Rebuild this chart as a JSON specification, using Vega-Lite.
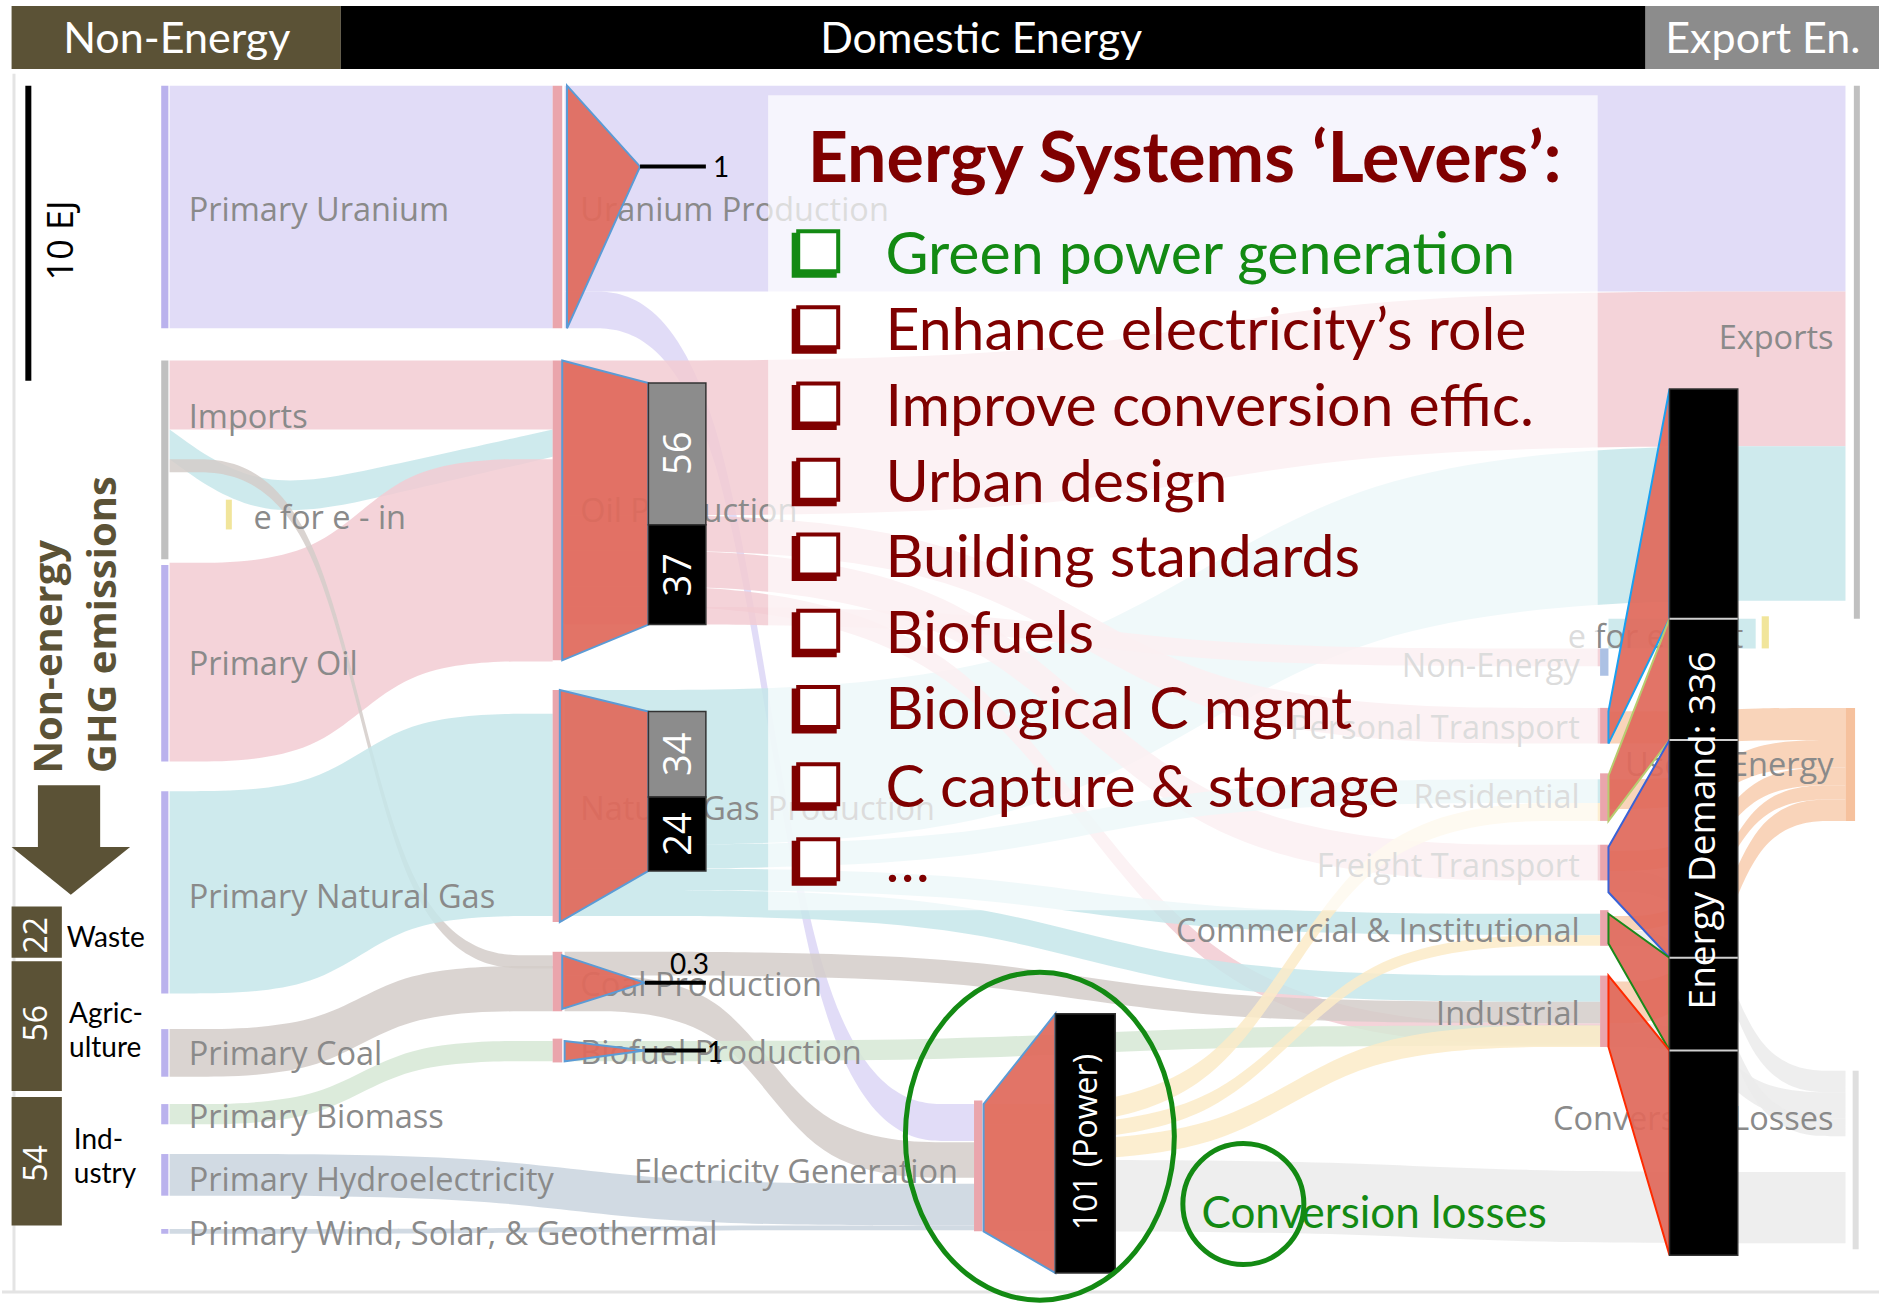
{
"$schema":"https://vega.github.io/schema/vega-lite/v6.json",
"width":1881,"height":1309,
"autosize":{"type":"fit","contains":"padding"},
"padding":0,
"background":"#ffffff",
"config":{"view":{"stroke":null},"axis":{"disable":true}},
"datasets":{
"flows":[
{"f":"u1","c":"U","x":140,"y":72,"y2":276},{"f":"u1","c":"U","x":460,"y":72,"y2":276},
{"f":"u2","c":"U","x":470,"y":72,"y2":245},{"f":"u2","c":"U","x":1540,"y":72,"y2":245},
{"f":"u3","c":"U","x":470,"y":245,"y2":276},{"f":"u3","c":"U","x":607,"y":245,"y2":276},{"f":"u3","c":"U","x":675,"y":928,"y2":959},{"f":"u3","c":"U","x":812,"y":928,"y2":959},
{"f":"o1","c":"O","x":140,"y":303,"y2":361},{"f":"o1","c":"O","x":460,"y":303,"y2":361},
{"f":"gi","c":"G","x":140,"y":361,"y2":386},{"f":"gi","c":"G","x":215,"y":415,"y2":440},{"f":"gi","c":"G","x":320,"y":392,"y2":417},{"f":"gi","c":"G","x":460,"y":361,"y2":384},
{"f":"o2","c":"O","x":140,"y":473,"y2":640},{"f":"o2","c":"O","x":268,"y":473,"y2":640},{"f":"o2","c":"O","x":332,"y":386,"y2":556},{"f":"o2","c":"O","x":460,"y":386,"y2":556},
{"f":"c0","c":"C","x":140,"y":386,"y2":397},{"f":"c0","c":"C","x":268,"y":386,"y2":397},{"f":"c0","c":"C","x":332,"y":803,"y2":814},{"f":"c0","c":"C","x":460,"y":803,"y2":814},
{"f":"g1","c":"G","x":140,"y":665,"y2":835},{"f":"g1","c":"G","x":268,"y":665,"y2":835},{"f":"g1","c":"G","x":332,"y":600,"y2":770},{"f":"g1","c":"G","x":460,"y":600,"y2":770},
{"f":"c1","c":"C","x":140,"y":865,"y2":905},{"f":"c1","c":"C","x":268,"y":865,"y2":905},{"f":"c1","c":"C","x":332,"y":812,"y2":850},{"f":"c1","c":"C","x":460,"y":812,"y2":850},
{"f":"b1","c":"B","x":140,"y":928,"y2":945},{"f":"b1","c":"B","x":268,"y":928,"y2":945},{"f":"b1","c":"B","x":332,"y":875,"y2":892},{"f":"b1","c":"B","x":460,"y":875,"y2":892},
{"f":"h1","c":"H","x":140,"y":970,"y2":1005},{"f":"h1","c":"H","x":409,"y":970,"y2":1005},{"f":"h1","c":"H","x":543,"y":995,"y2":1030},{"f":"h1","c":"H","x":812,"y":995,"y2":1030},
{"f":"w1","c":"H","x":140,"y":1033,"y2":1037},{"f":"w1","c":"H","x":409,"y":1033,"y2":1037},{"f":"w1","c":"H","x":543,"y":1030,"y2":1034},{"f":"w1","c":"H","x":812,"y":1030,"y2":1034},
{"f":"o3","c":"O","x":470,"y":303,"y2":433},{"f":"o3","c":"O","x":898,"y":303,"y2":433},{"f":"o3","c":"O","x":1112,"y":245,"y2":375},{"f":"o3","c":"O","x":1540,"y":245,"y2":375},
{"f":"g2","c":"G","x":470,"y":580,"y2":710},{"f":"g2","c":"G","x":898,"y":580,"y2":710},{"f":"g2","c":"G","x":1112,"y":375,"y2":505},{"f":"g2","c":"G","x":1540,"y":375,"y2":505},
{"f":"o4","c":"O","x":470,"y":433,"y2":463},{"f":"o4","c":"O","x":816,"y":433,"y2":463},{"f":"o4","c":"O","x":989,"y":595,"y2":625},{"f":"o4","c":"O","x":1335,"y":595,"y2":625},
{"f":"o5","c":"O","x":470,"y":463,"y2":493},{"f":"o5","c":"O","x":816,"y":463,"y2":493},{"f":"o5","c":"O","x":989,"y":710,"y2":740},{"f":"o5","c":"O","x":1335,"y":710,"y2":740},
{"f":"o6","c":"O","x":470,"y":493,"y2":510},{"f":"o6","c":"O","x":816,"y":493,"y2":510},{"f":"o6","c":"O","x":989,"y":860,"y2":877},{"f":"o6","c":"O","x":1335,"y":860,"y2":877},
{"f":"o7","c":"O","x":470,"y":510,"y2":525},{"f":"o7","c":"O","x":816,"y":510,"y2":525},{"f":"o7","c":"O","x":989,"y":545,"y2":560},{"f":"o7","c":"O","x":1335,"y":545,"y2":560},
{"f":"g3","c":"G","x":470,"y":710,"y2":730},{"f":"g3","c":"G","x":816,"y":710,"y2":730},{"f":"g3","c":"G","x":989,"y":655,"y2":675},{"f":"g3","c":"G","x":1335,"y":655,"y2":675},
{"f":"g4","c":"G","x":470,"y":730,"y2":748},{"f":"g4","c":"G","x":816,"y":730,"y2":748},{"f":"g4","c":"G","x":989,"y":768,"y2":786},{"f":"g4","c":"G","x":1335,"y":768,"y2":786},
{"f":"g5","c":"G","x":470,"y":748,"y2":770},{"f":"g5","c":"G","x":816,"y":748,"y2":770},{"f":"g5","c":"G","x":989,"y":820,"y2":842},{"f":"g5","c":"G","x":1335,"y":820,"y2":842},
{"f":"c2","c":"C","x":470,"y":800,"y2":820},{"f":"c2","c":"C","x":816,"y":800,"y2":820},{"f":"c2","c":"C","x":989,"y":842,"y2":860},{"f":"c2","c":"C","x":1335,"y":842,"y2":860},
{"f":"c3","c":"C","x":470,"y":820,"y2":850},{"f":"c3","c":"C","x":607,"y":820,"y2":850},{"f":"c3","c":"C","x":675,"y":960,"y2":990},{"f":"c3","c":"C","x":812,"y":960,"y2":990},
{"f":"b2","c":"B","x":470,"y":875,"y2":892},{"f":"b2","c":"B","x":816,"y":875,"y2":892},{"f":"b2","c":"B","x":989,"y":862,"y2":879},{"f":"b2","c":"B","x":1335,"y":862,"y2":879},
{"f":"e1","c":"E","x":820,"y":928,"y2":945},{"f":"e1","c":"E","x":1026,"y":928,"y2":945},{"f":"e1","c":"E","x":1129,"y":675,"y2":690},{"f":"e1","c":"E","x":1335,"y":675,"y2":690},
{"f":"e2","c":"E","x":820,"y":945,"y2":958},{"f":"e2","c":"E","x":1026,"y":945,"y2":958},{"f":"e2","c":"E","x":1129,"y":786,"y2":795},{"f":"e2","c":"E","x":1335,"y":786,"y2":795},
{"f":"e3","c":"E","x":820,"y":958,"y2":975},{"f":"e3","c":"E","x":1026,"y":958,"y2":975},{"f":"e3","c":"E","x":1129,"y":862,"y2":880},{"f":"e3","c":"E","x":1335,"y":862,"y2":880},
{"f":"l1","c":"L","x":820,"y":975,"y2":1035},{"f":"l1","c":"L","x":1108,"y":975,"y2":1035},{"f":"l1","c":"L","x":1252,"y":985,"y2":1045},{"f":"l1","c":"L","x":1540,"y":985,"y2":1045},
{"f":"ue1","c":"UE","x":1342,"y":598,"y2":625},{"f":"ue1","c":"UE","x":1421,"y":598,"y2":625},{"f":"ue1","c":"UE","x":1461,"y":595,"y2":622},{"f":"ue1","c":"UE","x":1540,"y":595,"y2":622},
{"f":"ue2","c":"UE","x":1342,"y":655,"y2":680},{"f":"ue2","c":"UE","x":1421,"y":655,"y2":680},{"f":"ue2","c":"UE","x":1461,"y":622,"y2":645},{"f":"ue2","c":"UE","x":1540,"y":622,"y2":645},
{"f":"ue3","c":"UE","x":1342,"y":715,"y2":732},{"f":"ue3","c":"UE","x":1421,"y":715,"y2":732},{"f":"ue3","c":"UE","x":1461,"y":645,"y2":660},{"f":"ue3","c":"UE","x":1540,"y":645,"y2":660},
{"f":"ue4","c":"UE","x":1342,"y":770,"y2":782},{"f":"ue4","c":"UE","x":1421,"y":770,"y2":782},{"f":"ue4","c":"UE","x":1461,"y":660,"y2":672},{"f":"ue4","c":"UE","x":1540,"y":660,"y2":672},
{"f":"ue5","c":"UE","x":1342,"y":825,"y2":860},{"f":"ue5","c":"UE","x":1421,"y":825,"y2":860},{"f":"ue5","c":"UE","x":1461,"y":672,"y2":690},{"f":"ue5","c":"UE","x":1540,"y":672,"y2":690},
{"f":"l2","c":"L","x":1342,"y":732,"y2":750},{"f":"l2","c":"L","x":1421,"y":732,"y2":750},{"f":"l2","c":"L","x":1461,"y":900,"y2":918},{"f":"l2","c":"L","x":1540,"y":900,"y2":918},
{"f":"l3","c":"L","x":1342,"y":860,"y2":880},{"f":"l3","c":"L","x":1421,"y":860,"y2":880},{"f":"l3","c":"L","x":1461,"y":918,"y2":940},{"f":"l3","c":"L","x":1540,"y":918,"y2":940},
{"f":"l4","c":"L","x":1342,"y":782,"y2":795},{"f":"l4","c":"L","x":1421,"y":782,"y2":795},{"f":"l4","c":"L","x":1461,"y":940,"y2":955},{"f":"l4","c":"L","x":1540,"y":940,"y2":955},
{"f":"eo","c":"G","x":1342,"y":520,"y2":545},{"f":"eo","c":"G","x":1465,"y":520,"y2":545}
],
"nodes":[
{"x":133,"x2":139,"y":72,"y2":276,"c":"src"},
{"x":133,"x2":139,"y":303,"y2":470,"c":"imp"},
{"x":187,"x2":192,"y":420,"y2":445,"c":"yel"},
{"x":133,"x2":139,"y":475,"y2":640,"c":"src"},
{"x":133,"x2":139,"y":665,"y2":835,"c":"src"},
{"x":133,"x2":139,"y":865,"y2":905,"c":"src"},
{"x":133,"x2":139,"y":928,"y2":945,"c":"src"},
{"x":133,"x2":139,"y":970,"y2":1005,"c":"src"},
{"x":133,"x2":139,"y":1033,"y2":1037,"c":"src"},
{"x":460,"x2":468,"y":72,"y2":276,"c":"prod"},
{"x":460,"x2":468,"y":303,"y2":555,"c":"prod"},
{"x":460,"x2":468,"y":580,"y2":775,"c":"prod"},
{"x":460,"x2":468,"y":800,"y2":850,"c":"prod"},
{"x":460,"x2":468,"y":873,"y2":893,"c":"prod"},
{"x":812,"x2":819,"y":925,"y2":1035,"c":"prod"},
{"x":1335,"x2":1342,"y":545,"y2":568,"c":"ne"},
{"x":1335,"x2":1342,"y":595,"y2":625,"c":"prod"},
{"x":1335,"x2":1342,"y":650,"y2":690,"c":"prod"},
{"x":1335,"x2":1342,"y":710,"y2":740,"c":"prod"},
{"x":1335,"x2":1342,"y":765,"y2":795,"c":"prod"},
{"x":1335,"x2":1342,"y":820,"y2":880,"c":"prod"},
{"x":1470,"x2":1476,"y":518,"y2":545,"c":"yel"},
{"x":1547,"x2":1552,"y":72,"y2":520,"c":"imp"},
{"x":1540,"x2":1548,"y":595,"y2":690,"c":"ue"},
{"x":1546,"x2":1551,"y":900,"y2":1050,"c":"loss"}
],
"lblL":[
{"t":"Primary Uranium","x":156,"y":177},{"t":"Imports","x":156,"y":351},{"t":"e for e - in","x":210,"y":436},
{"t":"Primary Oil","x":156,"y":559},{"t":"Primary Natural Gas","x":156,"y":755},{"t":"Primary Coal","x":156,"y":887},
{"t":"Primary Biomass","x":156,"y":940},{"t":"Primary Hydroelectricity","x":156,"y":993},{"t":"Primary Wind, Solar, & Geothermal","x":156,"y":1038},
{"t":"Uranium Production","x":483,"y":177},{"t":"Oil Production","x":483,"y":430},{"t":"Natural Gas Production","x":483,"y":681},
{"t":"Coal Production","x":483,"y":829},{"t":"Biofuel Production","x":483,"y":886},{"t":"Electricity Generation","x":528,"y":986},
{"t":"e for e - out","x":1308,"y":536}
],
"lblR":[
{"t":"Non-Energy","x":1318,"y":561},{"t":"Personal Transport","x":1318,"y":613},{"t":"Residential","x":1318,"y":671},
{"t":"Freight Transport","x":1318,"y":729},{"t":"Commercial & Institutional","x":1318,"y":783},{"t":"Industrial","x":1318,"y":853},
{"t":"Exports","x":1530,"y":285},{"t":"Useful Energy","x":1530,"y":644},{"t":"Conversion Losses","x":1530,"y":941}
],
"rects":[
{"x":8,"x2":283,"y":5,"y2":58,"c":"ol"},{"x":283,"x2":1373,"y":5,"y2":58,"c":"k"},{"x":1373,"x2":1568,"y":5,"y2":58,"c":"gr"},
{"x":30,"x2":82,"y":660,"y2":713,"c":"ol"},
{"x":8,"x2":50,"y":762,"y2":805,"c":"ol"},{"x":8,"x2":50,"y":808,"y2":917,"c":"ol"},{"x":8,"x2":50,"y":922,"y2":1030,"c":"ol"}
],
"funnels":[
{"f":"fu","s":"lb","x":472,"y":72,"y2":276},{"f":"fu","s":"lb","x":533,"y":140,"y2":140},
{"f":"fo","s":"lb","x":468,"y":303,"y2":555},{"f":"fo","s":"lb","x":540,"y":322,"y2":525},
{"f":"fg","s":"lb","x":466,"y":580,"y2":775},{"f":"fg","s":"lb","x":540,"y":598,"y2":732},
{"f":"fc","s":"lb","x":468,"y":803,"y2":848},{"f":"fc","s":"lb","x":537,"y":826,"y2":826},
{"f":"fb","s":"lb","x":470,"y":875,"y2":892},{"f":"fb","s":"lb","x":537,"y":883,"y2":883},
{"f":"fp","s":"lb","x":820,"y":928,"y2":1035},{"f":"fp","s":"lb","x":880,"y":852,"y2":1070},
{"f":"ra","s":"ra","x":1342,"y":598,"y2":625},{"f":"ra","s":"ra","x":1393,"y":327,"y2":520},
{"f":"rb","s":"rb","x":1342,"y":652,"y2":690},{"f":"rb","s":"rb","x":1393,"y":520,"y2":622},
{"f":"rc","s":"rc","x":1342,"y":712,"y2":750},{"f":"rc","s":"rc","x":1393,"y":622,"y2":805},
{"f":"rd","s":"rd","x":1342,"y":768,"y2":793},{"f":"rd","s":"rd","x":1393,"y":805,"y2":883},
{"f":"re","s":"re","x":1342,"y":820,"y2":880},{"f":"re","s":"re","x":1393,"y":883,"y2":1055}
],
"bars":[
{"x":540,"x2":588,"y":322,"y2":441,"c":"g"},{"x":540,"x2":588,"y":441,"y2":525,"c":"k"},
{"x":540,"x2":588,"y":598,"y2":670,"c":"g"},{"x":540,"x2":588,"y":670,"y2":732,"c":"k"},
{"x":880,"x2":930,"y":852,"y2":1070,"c":"k"},
{"x":1393,"x2":1450,"y":327,"y2":1055,"c":"k"}
],
"seps":[
{"x":1393,"x2":1450,"y":520,"y2":520},{"x":1393,"x2":1450,"y":622,"y2":622},
{"x":1393,"x2":1450,"y":805,"y2":805},{"x":1393,"x2":1450,"y":883,"y2":883}
],
"ticks":[
{"x":533,"x2":588,"y":140,"y2":140},{"x":537,"x2":588,"y":826,"y2":826},{"x":537,"x2":588,"y":883,"y2":883}
],
"rotW":[
{"t":"56","x":566,"y":381},{"t":"37","x":566,"y":483},{"t":"34","x":566,"y":634},{"t":"24","x":566,"y":701}
],
"rotS":[
{"t":"22","x":29,"y":786},{"t":"56","x":29,"y":860},{"t":"54","x":29,"y":978},{"t":"101 (Power)","x":906,"y":960}
],
"blk":[
{"t":"1","x":594,"y":142},{"t":"0.3","x":558,"y":812},{"t":"1","x":589,"y":886},
{"t":"Waste","x":54,"y":789},{"t":"Agric-","x":56,"y":853},{"t":"ulture","x":56,"y":882},
{"t":"Ind-","x":60,"y":959},{"t":"ustry","x":60,"y":988}
],
"levers":[
{"t":"Green power generation","g":"green","x":738,"y":215},
{"t":"Enhance electricity’s role","g":"red","x":738,"y":279},
{"t":"Improve conversion effic.","g":"red","x":738,"y":343},
{"t":"Urban design","g":"red","x":738,"y":407},
{"t":"Building standards","g":"red","x":738,"y":470},
{"t":"Biofuels","g":"red","x":738,"y":534},
{"t":"Biological C mgmt","g":"red","x":738,"y":598},
{"t":"C capture & storage","g":"red","x":738,"y":663},
{"t":"…","g":"red","x":738,"y":726}
],
"checks":[
{"g":"green","x":681,"y":212},{"g":"red","x":681,"y":276},{"g":"red","x":681,"y":340},{"g":"red","x":681,"y":404},
{"g":"red","x":681,"y":467},{"g":"red","x":681,"y":531},{"g":"red","x":681,"y":595},{"g":"red","x":681,"y":660},{"g":"red","x":681,"y":723}
]
},
"encoding":{
"x":{"field":"x","type":"quantitative","scale":{"domain":[0,1568],"nice":false,"zero":false},"axis":null},
"y":{"field":"y","type":"quantitative","scale":{"domain":[0,1091],"nice":false,"zero":false,"reverse":true},"axis":null}
},
"layer":[
{"data":{"name":"flows"},"mark":{"type":"area","interpolate":"basis","opacity":0.85},
 "encoding":{"y2":{"field":"y2"},"detail":{"field":"f"},
  "color":{"field":"c","type":"nominal","legend":null,"scale":{"domain":["U","O","G","C","B","H","E","UE","L"],"range":["#dcd6f6","#f2cbd2","#c6e6ea","#d3cdc9","#d6e8d5","#c9d3de","#fcebc8","#f8cdae","#ebebeb"]}}}},
{"data":{"name":"nodes"},"mark":{"type":"rect","opacity":0.85},
 "encoding":{"x2":{"field":"x2"},"y2":{"field":"y2"},
  "color":{"field":"c","type":"nominal","legend":null,"scale":{"domain":["src","imp","yel","prod","ne","ue","loss"],"range":["#aea4ea","#b5b5b5","#efe08a","#e6959d","#9db6df","#f5b68c","#d9d9d9"]}}}},
{"data":{"name":"lblL"},"mark":{"type":"text","align":"left","baseline":"middle","font":"Open Sans","fontSize":32.5,"color":"#8a8a8a"},
 "encoding":{"text":{"field":"t"}}},
{"data":{"name":"lblR"},"mark":{"type":"text","align":"right","baseline":"middle","font":"Open Sans","fontSize":32.5,"color":"#8a8a8a"},
 "encoding":{"text":{"field":"t"}}},
{"data":{"values":[{"x":640,"x2":1333,"y":80,"y2":765}]},"mark":{"type":"rect","color":"#ffffff","opacity":0.7},
 "encoding":{"x2":{"field":"x2"},"y2":{"field":"y2"}}},
{"data":{"values":[{"x":0,"x2":1568,"y":1086,"y2":1086},{"x":10,"x2":10,"y":62,"y2":1086}]},"mark":{"type":"rule","color":"#e4e4e4","strokeWidth":3},
 "encoding":{"x2":{"field":"x2"},"y2":{"field":"y2"}}},
{"data":{"name":"rects"},"mark":{"type":"rect"},
 "encoding":{"x2":{"field":"x2"},"y2":{"field":"y2"},
  "color":{"field":"c","type":"nominal","legend":null,"scale":{"domain":["ol","k","gr"],"range":["#5b5236","#000000","#8c8c8c"]}}}},
{"data":{"values":[{"t":"Non-Energy","x":146,"y":34},{"t":"Domestic Energy","x":818,"y":34},{"t":"Export En.","x":1471,"y":34}]},
 "mark":{"type":"text","align":"center","baseline":"middle","font":"Lato","fontSize":43,"color":"#ffffff"},
 "encoding":{"text":{"field":"t"}}},
{"data":{"values":[{"x":8,"y":712,"y2":712},{"x":57.5,"y":712,"y2":752},{"x":107,"y":712,"y2":712}]},
 "mark":{"type":"area","color":"#5b5236"},"encoding":{"y2":{"field":"y2"}}},
{"data":{"name":"funnels"},"mark":{"type":"area","fill":"#e0695b","fillOpacity":0.93,"strokeWidth":2},
 "encoding":{"y2":{"field":"y2"},"detail":{"field":"f"},
  "stroke":{"field":"s","type":"nominal","legend":null,"scale":{"domain":["lb","ra","rb","rc","rd","re"],"range":["#5b9bd5","#1aa0f0","#b8cc70","#3a62d6","#1a8a1a","#ff2a00"]}}}},
{"data":{"name":"bars"},"mark":{"type":"rect","stroke":"#333333","strokeWidth":1.5},
 "encoding":{"x2":{"field":"x2"},"y2":{"field":"y2"},
  "color":{"field":"c","type":"nominal","legend":null,"scale":{"domain":["g","k"],"range":["#8c8c8c","#000000"]}}}},
{"data":{"name":"seps"},"mark":{"type":"rule","color":"#cfcfcf","strokeWidth":2},
 "encoding":{"x2":{"field":"x2"},"y2":{"field":"y2"}}},
{"data":{"name":"ticks"},"mark":{"type":"rule","color":"#000000","strokeWidth":4},
 "encoding":{"x2":{"field":"x2"},"y2":{"field":"y2"}}},
{"data":{"values":[{"x":22,"x2":22,"y":72,"y2":320}]},"mark":{"type":"rule","color":"#000000","strokeWidth":6},
 "encoding":{"x2":{"field":"x2"},"y2":{"field":"y2"}}},
{"data":{"name":"rotW"},"mark":{"type":"text","angle":270,"align":"center","baseline":"middle","font":"Open Sans","fontSize":38,"color":"#ffffff"},
 "encoding":{"text":{"field":"t"}}},
{"data":{"name":"rotS"},"mark":{"type":"text","angle":270,"align":"center","baseline":"middle","font":"Open Sans","fontSize":32,"color":"#ffffff"},
 "encoding":{"text":{"field":"t"}}},
{"data":{"values":[{"t":"Energy Demand:  336","x":1422,"y":698}]},"mark":{"type":"text","angle":270,"align":"center","baseline":"middle","font":"Open Sans","fontSize":37,"color":"#ffffff"},
 "encoding":{"text":{"field":"t"}}},
{"data":{"name":"blk"},"mark":{"type":"text","align":"left","baseline":"middle","font":"Lato","fontSize":28,"color":"#000000"},
 "encoding":{"text":{"field":"t"}}},
{"data":{"values":[{"t":"10 EJ","x":50,"y":202}]},"mark":{"type":"text","angle":270,"align":"center","baseline":"middle","font":"Open Sans","fontSize":36,"color":"#000000"},
 "encoding":{"text":{"field":"t"}}},
{"data":{"values":[{"t":"Non-energy","x":40,"y":552},{"t":"GHG emissions","x":85,"y":525}]},"mark":{"type":"text","angle":270,"align":"center","baseline":"middle","font":"Open Sans","fontWeight":"bold","fontSize":40,"color":"#5b5236"},
 "encoding":{"text":{"field":"t"}}},
{"data":{"values":[{"t":"Energy Systems ‘Levers’:","x":673,"y":135}]},"mark":{"type":"text","align":"left","baseline":"middle","font":"Lato","fontWeight":"bold","fontSize":70,"color":"#7f0000"},
 "encoding":{"text":{"field":"t"}}},
{"data":{"name":"levers"},"mark":{"type":"text","align":"left","baseline":"middle","font":"Lato","fontSize":59},
 "encoding":{"text":{"field":"t"},
  "color":{"field":"g","type":"nominal","legend":null,"scale":{"domain":["green","red"],"range":["#138a13","#7f0000"]}}}},
{"data":{"name":"checks"},"mark":{"type":"point","shape":"square","filled":true,"opacity":1,"size":2025,"xOffset":-3,"yOffset":3},
 "encoding":{"color":{"field":"g","type":"nominal","legend":null,"scale":{"domain":["green","red"],"range":["#138a13","#7f0000"]}}}},
{"data":{"name":"checks"},"mark":{"type":"point","shape":"square","filled":false,"fill":"#ffffff","fillOpacity":1,"opacity":1,"strokeWidth":4,"size":1600,"xOffset":1,"yOffset":-1},
 "encoding":{"stroke":{"field":"g","type":"nominal","legend":null,"scale":{"domain":["green","red"],"range":["#138a13","#7f0000"]}}}},
{"data":{"values":[{"x":867,"y":955}]},"mark":{"type":"point","shape":"M -0.82 0 A 0.82 1 0 1 0 0.82 0 A 0.82 1 0 1 0 -0.82 0 Z","filled":false,"opacity":1,"stroke":"#138a13","strokeWidth":5,"size":107584}},
{"data":{"values":[{"x":1037,"y":1012}]},"mark":{"type":"point","shape":"circle","filled":false,"opacity":1,"stroke":"#138a13","strokeWidth":5,"size":14641}},
{"data":{"values":[{"t":"Conversion losses","x":1002,"y":1021}]},"mark":{"type":"text","align":"left","baseline":"middle","font":"Lato","fontSize":44,"color":"#138a13"},
 "encoding":{"text":{"field":"t"}}}
],
"resolve":{"scale":{"color":"independent","stroke":"independent"}}
}
